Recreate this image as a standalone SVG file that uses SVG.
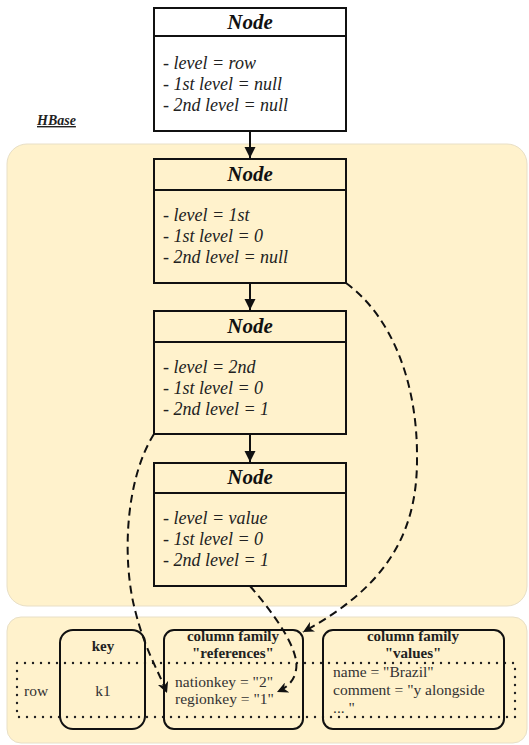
<svg xmlns="http://www.w3.org/2000/svg" width="529" height="745" viewBox="0 0 529 745">
<defs>
<style>
.panel{fill:#fff2cc;stroke:#e8dfc6;stroke-width:1}
.box{fill:none;stroke:#111;stroke-width:2}
.hdr{font-family:"Liberation Serif",serif;font-weight:bold;font-style:italic;font-size:21px;fill:#111;text-anchor:middle}
.attr{font-family:"Liberation Serif",serif;font-style:italic;font-size:18px;fill:#222}
.cf{fill:none;stroke:#111;stroke-width:2}
.bold{font-family:"Liberation Serif",serif;font-weight:bold;font-size:15px;fill:#222;text-anchor:middle}
.txt{font-family:"Liberation Serif",serif;font-size:15.5px;fill:#333}
.solid{stroke:#111;stroke-width:2;fill:none}
.dash{stroke:#111;stroke-width:2;fill:none;stroke-dasharray:8 5}
.dot{fill:none;stroke:#222;stroke-width:2.4;stroke-dasharray:0 8;stroke-linecap:round}
</style>
<marker id="ah" viewBox="0 0 10 10" refX="10" refY="5" markerWidth="11" markerHeight="12" markerUnits="userSpaceOnUse" orient="auto">
<path d="M0,0 L10,5 L0,10 z" fill="#111"/>
</marker>
<marker id="ad" viewBox="0 0 10 10" refX="10" refY="5" markerWidth="11" markerHeight="11" markerUnits="userSpaceOnUse" orient="auto">
<path d="M0,0 L10,5 L0,10 L3,5 z" fill="#111"/>
</marker>
</defs>

<rect class="panel" x="7" y="144" width="520" height="462" rx="20"/>
<rect class="panel" x="7" y="617" width="520" height="126" rx="14"/>

<text x="37" y="125" font-family="Liberation Serif, serif" font-weight="bold" font-style="italic" font-size="14" fill="#222" text-decoration="underline">HBase</text>

<g id="node1">
<rect x="154" y="8" width="192" height="123" fill="#fff" stroke="#111" stroke-width="2"/>
<line x1="154" y1="36" x2="346" y2="36" stroke="#111" stroke-width="2"/>
<text class="hdr" x="250" y="29">Node</text>
<text class="attr" x="163" y="69">- level = row</text>
<text class="attr" x="163" y="90">- 1st level = null</text>
<text class="attr" x="163" y="111">- 2nd level = null</text>
</g>

<g id="node2">
<rect class="box" x="154" y="159" width="192" height="124"/>
<line x1="154" y1="190" x2="346" y2="190" stroke="#111" stroke-width="2"/>
<text class="hdr" x="250" y="181">Node</text>
<text class="attr" x="163" y="221">- level = 1st</text>
<text class="attr" x="163" y="242">- 1st level = 0</text>
<text class="attr" x="163" y="263">- 2nd level = null</text>
</g>

<g id="node3">
<rect class="box" x="154" y="311" width="192" height="123"/>
<line x1="154" y1="342" x2="346" y2="342" stroke="#111" stroke-width="2"/>
<text class="hdr" x="250" y="333">Node</text>
<text class="attr" x="163" y="373">- level = 2nd</text>
<text class="attr" x="163" y="394">- 1st level = 0</text>
<text class="attr" x="163" y="415">- 2nd level = 1</text>
</g>

<g id="node4">
<rect class="box" x="154" y="463" width="192" height="123"/>
<line x1="154" y1="493" x2="346" y2="493" stroke="#111" stroke-width="2"/>
<text class="hdr" x="250" y="484">Node</text>
<text class="attr" x="163" y="524">- level = value</text>
<text class="attr" x="163" y="545">- 1st level = 0</text>
<text class="attr" x="163" y="566">- 2nd level = 1</text>
</g>

<g id="row">
<rect class="dot" x="17" y="663" width="498" height="54"/>
<text class="txt" x="24" y="696">row</text>
</g>

<g id="key">
<rect class="cf" x="60" y="630" width="85" height="99" rx="13"/>
<text class="bold" x="103" y="651">key</text>
<text class="txt" x="103" y="696" text-anchor="middle">k1</text>
</g>

<g id="references">
<rect class="cf" x="164" y="630" width="139" height="99" rx="10"/>
<text class="bold" x="233" y="641">column family</text>
<text class="bold" x="233" y="658">"references"</text>
<text class="txt" x="175" y="687">nationkey = "2"</text>
<text class="txt" x="175" y="704">regionkey = "1"</text>
</g>

<g id="values">
<rect class="cf" x="323" y="630" width="181" height="99" rx="10"/>
<text class="bold" x="413" y="641">column family</text>
<text class="bold" x="413" y="658">"values"</text>
<text class="txt" x="333" y="677">name = "Brazil"</text>
<text class="txt" x="333" y="695">comment = "y alongside</text>
<text class="txt" x="333" y="713">... "</text>
</g>

<g id="connectors">
<line class="solid" x1="250" y1="131" x2="250" y2="158" marker-end="url(#ah)"/>
<line class="solid" x1="250" y1="283" x2="250" y2="310" marker-end="url(#ah)"/>
<line class="solid" x1="250" y1="434" x2="250" y2="462" marker-end="url(#ah)"/>
<path class="dash" d="M346,283 C390,315 418,380 417,460 C417,540 380,590 303,632" marker-end="url(#ad)"/>
<path class="dash" d="M154,434 C125,480 122,560 135,610 C145,650 158,670 167,693" marker-end="url(#ad)"/>
<path class="dash" d="M250,586 C275,615 300,650 296,670 C294,682 286,688 277,692" marker-end="url(#ad)"/>
</g>
</svg>
